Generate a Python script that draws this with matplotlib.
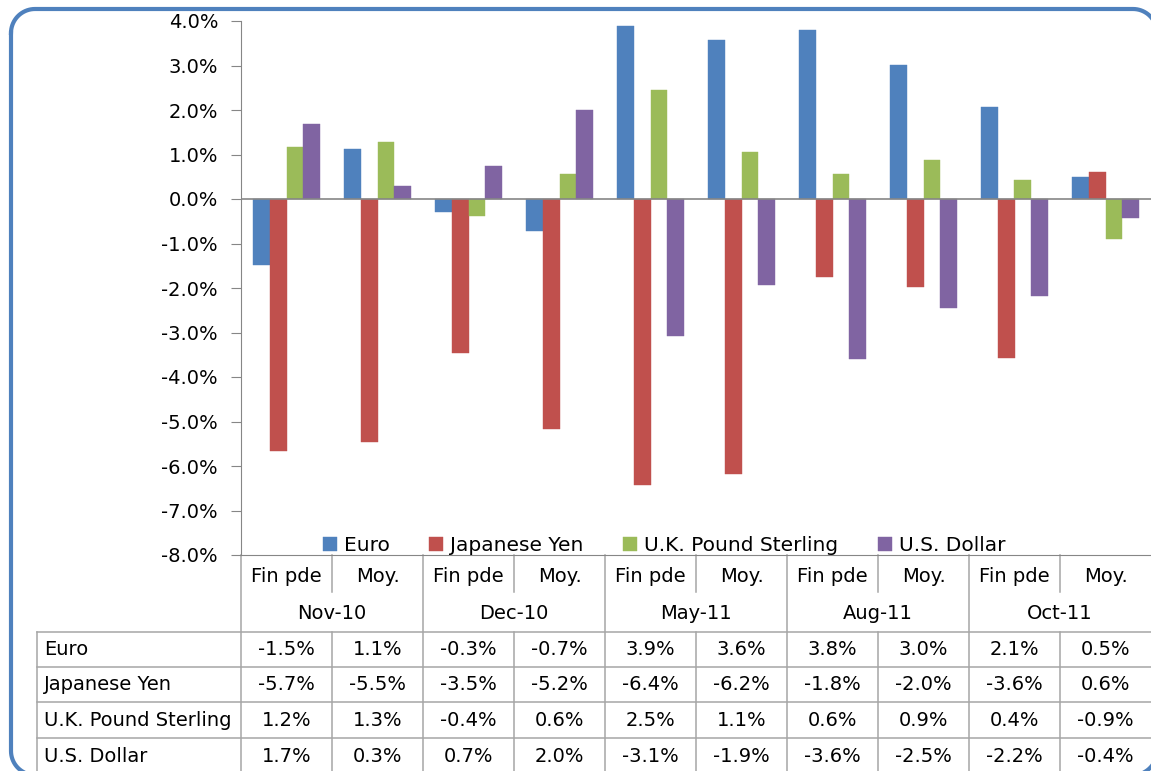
"""Exchange rate changes by currency, Excel-style column chart with data table."""

import matplotlib
matplotlib.use("Agg")
import matplotlib.pyplot as plt
import matplotlib.transforms as mtransforms
import numpy as np

plt.rcParams["font.family"] = ["DejaVu Sans"]

# data (percent)
months = ["Nov-10", "Dec-10", "May-11", "Aug-11", "Oct-11"]
sub_labels = ["Fin pde", "Moy."]
series = ["Euro", "Japanese Yen", "U.K. Pound Sterling", "U.S. Dollar"]
euro = [-1.48, 1.12, -0.29, -0.72, 3.89, 3.57, 3.80, 3.01, 2.07, 0.50]
yen = [-5.66, -5.46, -3.46, -5.17, -6.43, -6.18, -1.76, -1.98, -3.57, 0.61]
gbp = [1.16, 1.28, -0.38, 0.56, 2.46, 1.06, 0.56, 0.87, 0.43, -0.90]
usd = [1.69, 0.29, 0.74, 2.00, -3.08, -1.94, -3.60, -2.46, -2.18, -0.42]
colors = ["#4F81BD", "#C0504D", "#9BBB59", "#8064A2"]
yticks = np.arange(-8, 5, 1)

W, H = 1151, 771
fig = plt.figure(figsize=(W / 100, H / 100), dpi=100)

# background layer in pixel units for the frame and the table
bg = fig.add_axes([0, 0, 1, 1], zorder=0)
bg.set_xlim(0, W)
bg.set_ylim(H, 0)
bg.axis("off")


def rounded_frame(x0, y0, x1, y1, r):
    """Outline of a rounded rectangle as a closed polyline (pixel coords, y down)."""
    t = np.linspace(0, np.pi / 2, 20)
    pts = []
    # top-left, top-right, bottom-right, bottom-left corners
    for cx, cy, a0 in [(x0 + r, y0 + r, np.pi), (x1 - r, y0 + r, 1.5 * np.pi),
                       (x1 - r, y1 - r, 0), (x0 + r, y1 - r, 0.5 * np.pi)]:
        a = a0 + t
        pts.append(np.column_stack([cx + r * np.cos(a), cy + r * np.sin(a)]))
    pts = np.vstack(pts + [pts[0][:1]])
    return pts[:, 0], pts[:, 1]


fxs, fys = rounded_frame(11, 9, 1157, 775, 24)
bg.plot(fxs, fys, color="#4F81BD", linewidth=3, solid_joinstyle="round")

# plot area
left, right, top, bottom = 241, 1151, 21, 555
ax = fig.add_axes([left / W, 1 - bottom / H, (right - left) / W, (bottom - top) / H], zorder=1)
ax.patch.set_alpha(0)

n = len(euro)
x = np.arange(n)
bw = 0.182
all_series = [euro, yen, gbp, usd]
for k, (vals, col, name) in enumerate(zip(all_series, colors, series)):
    ax.bar(x + (k - 1.5) * bw, vals, width=bw, color=col, label=name,
           edgecolor=col, linewidth=0.3, zorder=3)

ax.set_xlim(-0.5, n - 0.5)
ax.set_ylim(-8, 4)
ax.set_yticks(yticks)
ax.set_yticklabels([f"{v:.1f}%" for v in yticks])
ax.set_xticks([])
ax.axhline(0, color="#868686", linewidth=1.2, zorder=4)
for s in ["top", "right"]:
    ax.spines[s].set_visible(False)
ax.spines["left"].set_color("#868686")
ax.spines["bottom"].set_color("#868686")
ax.tick_params(axis="y", length=7, color="#868686", labelsize=14, pad=9.5)

ax.legend(ncol=4, loc="lower center", bbox_to_anchor=(0.465, -0.016), frameon=False,
          fontsize=14.5, handlelength=0.7, handleheight=0.7, handletextpad=0.35,
          columnspacing=1.95, borderaxespad=0)

# data table under the plot
fs = 14
line_kw = dict(color="#A6A6A6", linewidth=1.1)
tr = mtransforms.blended_transform_factory(ax.transData, bg.transData)
row1, row2, row3 = 555, 597, 632
data_rows = [632, 667, 702, 738, 773]

# header rows
for i in range(n):
    xb = i - 0.5
    if i % 2 == 0:
        bg.plot([xb, xb], [row1, H], transform=tr, clip_on=False, **line_kw)
    else:
        bg.plot([xb, xb], [row1, 592], transform=tr, clip_on=False, **line_kw)
        bg.plot([xb, xb], [row3, H], transform=tr, clip_on=False, **line_kw)
for i in range(n):
    bg.text(i, (row1 + row2) / 2, sub_labels[i % 2], transform=tr, ha="center",
            va="center", fontsize=fs)
for j, m in enumerate(months):
    bg.text(2 * j + 0.5, (row2 + row3) / 2 - 1, m, transform=tr, ha="center",
            va="center", fontsize=fs)

# body rows
bg.plot([37, W], [row3, row3], **line_kw)
for y in data_rows[1:-1]:
    bg.plot([37, W], [y, y], **line_kw)
bg.plot([37, 37], [row3, H], **line_kw)
for r, (name, vals) in enumerate(zip(series, all_series)):
    yc = (data_rows[r] + data_rows[r + 1]) / 2
    if r == len(series) - 1:
        yc = 756
    bg.text(44, yc, name, ha="left", va="center", fontsize=fs)
    for i, v in enumerate(vals):
        bg.text(i, yc, f"{v:.1f}%", transform=tr, ha="center", va="center", fontsize=fs)

fig.savefig("out.png", dpi=100)
